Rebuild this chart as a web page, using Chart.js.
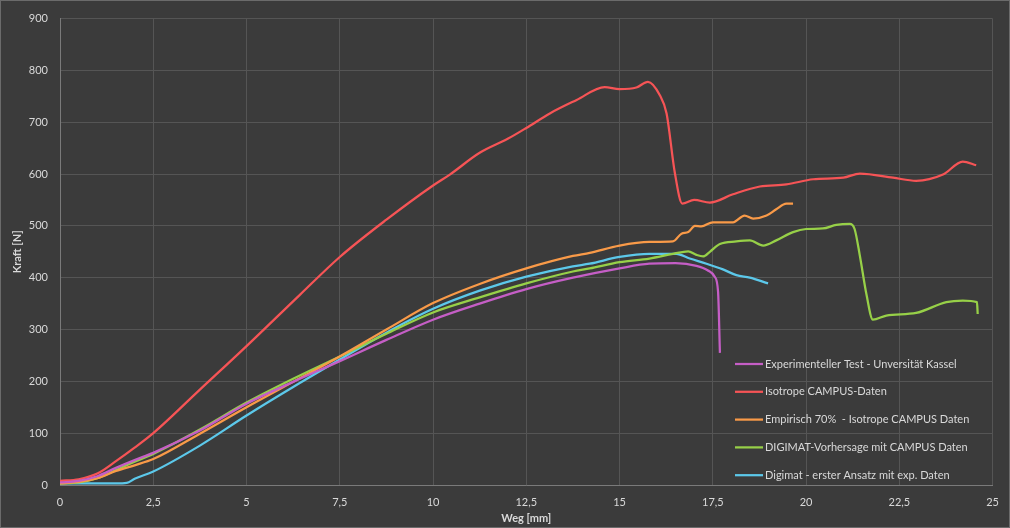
<!DOCTYPE html>
<html>
<head>
<meta charset="utf-8">
<title>Kraft-Weg-Diagramm</title>
<script src="https://cdn.jsdelivr.net/npm/chart.js@4/dist/chart.umd.min.js"></script>
<style>
  body { margin: 0; background: #3b3b3b; }
  #canvas { display: block; }
</style>
</head>
<body>
<canvas id="canvas" width="1010" height="528"></canvas>
<script>
// series names, as in the legend:
let seriesNames = [
  'Experimenteller Test - Unversität Kassel',
  'Isotrope CAMPUS-Daten',
  'Empirisch 70%  - Isotrope CAMPUS Daten',
  'DIGIMAT-Vorhersage mit CAMPUS Daten',
  'Digimat - erster Ansatz mit exp. Daten'
];
let seriesColors = ['#c55ec6', '#f65456', '#f99a48', '#97d048', '#5cc8ea'];

// Weg [mm] and Kraft [N]:
let testX = [0, 0.5, 1.0, 1.5, 2.0, 2.5, 3.75, 5, 6.25, 7.5, 8.75, 10, 11.25, 12.5, 13.75, 15, 15.8, 16.5, 17.06, 17.37, 17.55, 17.64, 17.69];
let testY = [5, 8, 17, 33, 48, 62, 105, 157, 199, 239, 280, 319, 350, 378, 400, 418, 427, 428, 423, 414, 402, 373, 255];

let isoX = [0, 0.5, 1.0, 1.5, 2.0, 2.5, 3.75, 5, 6.43, 7.5, 8.75, 10, 10.45, 11.25, 12, 12.5, 13.13, 13.85, 14.6, 15.0, 15.45, 15.76, 16.08, 16.26, 16.48, 16.68, 17.0, 17.42, 18.04, 18.76, 19.47, 20.19, 21.0, 21.44, 22.33, 22.95, 23.67, 24.2, 24.56];
let isoY = [8, 11, 22, 46, 72, 100, 184, 268, 367, 440, 512, 578, 599, 641, 668, 689, 717, 743, 768, 764, 767, 778, 752, 717, 603, 543, 550, 545, 561, 576, 580, 590, 593, 601, 593, 587, 599, 624, 617];

let empX = [0, 0.5, 1.0, 1.5, 2.0, 2.5, 3.75, 5, 6.25, 7.5, 8.75, 10, 11.25, 12.5, 13.75, 14.2, 15, 15.8, 16.43, 16.66, 16.84, 17.02, 17.19, 17.5, 18.04, 18.35, 18.58, 18.94, 19.2, 19.47, 19.65];
let empY = [3, 6, 13, 27, 38, 50, 99, 150, 199, 248, 300, 351, 388, 418, 442, 448, 462, 469, 470, 485, 488, 500, 499, 507, 507, 520, 514, 520, 532, 543, 543];

let digiX = [0, 0.5, 1.0, 1.5, 2.0, 2.5, 3.75, 5, 6.25, 7.5, 8.75, 10, 11.25, 12.5, 13.75, 14.2, 15, 15.8, 16.43, 16.84, 17.06, 17.24, 17.42, 17.69, 18.13, 18.49, 18.85, 19.2, 19.65, 20.0, 20.45, 20.81, 21.17, 21.3, 21.44, 21.62, 21.79, 22.15, 22.95, 23.76, 24.2, 24.58, 24.6];
let digiY = [3, 5, 13, 29, 45, 60, 107, 159, 205, 248, 292, 333, 362, 389, 412, 418, 430, 437, 446, 451, 444, 441, 450, 465, 470, 472, 462, 472, 488, 494, 495, 502, 504, 494, 443, 367, 319, 327, 332, 353, 356, 353, 330];

let expX = [0, 0.5, 1.0, 1.5, 1.79, 2.0, 2.5, 3.75, 5, 6.25, 7.5, 8.75, 10, 11.25, 12.5, 13.75, 14.2, 15, 15.8, 16.52, 16.88, 17.33, 17.77, 18.13, 18.49, 18.98];
let expY = [3, 3, 3, 3, 4, 12, 26, 76, 134, 189, 242, 294, 340, 375, 402, 422, 427, 440, 446, 446, 437, 427, 416, 405, 400, 389];

// axis ticks:
let xMin = 0, xMax = 25, xStep = 2.5;
let yMin = 0, yMax = 900, yStep = 100;

let textColor = '#d9d9d9';
let fontFamily = 'Lato, "Liberation Sans", sans-serif';

// pair up x and y arrays for the scatter chart:
function points(xs, ys) {
  let result = [];
  for (let i = 0; i < xs.length; i++) {
    result.push({ x: xs[i], y: ys[i] });
  }
  return result;
}

let allX = [testX, isoX, empX, digiX, expX];
let allY = [testY, isoY, empY, digiY, expY];

const data = { datasets: [] };
for (let i = 0; i < seriesNames.length; i++) {
  data.datasets.push({
    label: seriesNames[i],
    data: points(allX[i], allY[i]),
    borderColor: seriesColors[i],
    borderWidth: 2.25,
    showLine: true,
    pointRadius: 0,
    cubicInterpolationMode: 'monotone'
  });
}

// paints the background and the thin frame round the picture:
const frame = {
  id: 'frame',
  beforeDraw(chart) {
    let c = chart.ctx;
    c.save();
    c.fillStyle = '#3b3b3b';
    c.fillRect(0, 0, chart.width, chart.height);
    c.strokeStyle = '#6b6b6b';
    c.lineWidth = 1;
    c.strokeRect(0.5, 0.5, chart.width - 1, chart.height - 1);
    c.restore();
  }
};

// legend inside the plot, lower right:
const innerLegend = {
  id: 'innerLegend',
  afterDatasetsDraw(chart) {
    let c = chart.ctx;
    c.save();
    c.font = '11px ' + fontFamily;
    c.textBaseline = 'middle';
    c.fillStyle = textColor;
    chart.data.datasets.forEach((ds, i) => {
      let y = 364 + i * 27.8;
      c.strokeStyle = ds.borderColor;
      c.lineWidth = 2.25;
      c.beginPath();
      c.moveTo(735, y);
      c.lineTo(763, y);
      c.stroke();
      c.fillText(ds.label, 765, y);
    });
    c.restore();
  }
};

const config = {
  type: 'scatter',
  data: data,
  plugins: [frame, innerLegend],
  options: {
    responsive: false,
    animation: false,
    layout: { padding: { top: 14, right: 17, bottom: 0, left: 0 } },
    plugins: {
      legend: { display: false },
      tooltip: { enabled: false }
    },
    scales: {
      x: {
        type: 'linear',
        min: xMin,
        max: xMax,
        afterFit: (scale) => { scale.height = 43; },
        ticks: {
          stepSize: xStep,
          color: textColor,
          padding: 11,
          maxRotation: 0,
          font: { family: fontFamily, size: 11 },
          callback: (v) => String(v).replace('.', ',')
        },
        grid: { color: '#555555', drawTicks: false },
        border: { color: '#7a7a7a' },
        title: {
          display: true,
          text: 'Weg [mm]',
          color: textColor,
          font: { family: fontFamily, size: 11, weight: 'bold' },
          padding: { top: 0, bottom: 3 }
        }
      },
      y: {
        min: yMin,
        max: yMax,
        afterFit: (scale) => { scale.width = 60; },
        ticks: {
          stepSize: yStep,
          color: textColor,
          padding: 12,
          font: { family: fontFamily, size: 11 }
        },
        grid: { color: '#555555', drawTicks: false },
        border: { color: '#7a7a7a' },
        title: {
          display: true,
          text: 'Kraft [N]',
          color: textColor,
          font: { family: fontFamily, size: 11, weight: 'bold' },
          padding: { top: 11, bottom: 0 }
        }
      }
    }
  }
};

let chart;
function setup() {
  let ctx = document.getElementById('canvas').getContext('2d');
  chart = new Chart(ctx, config);
}

document.addEventListener('DOMContentLoaded', setup);
</script>
</body>
</html>
